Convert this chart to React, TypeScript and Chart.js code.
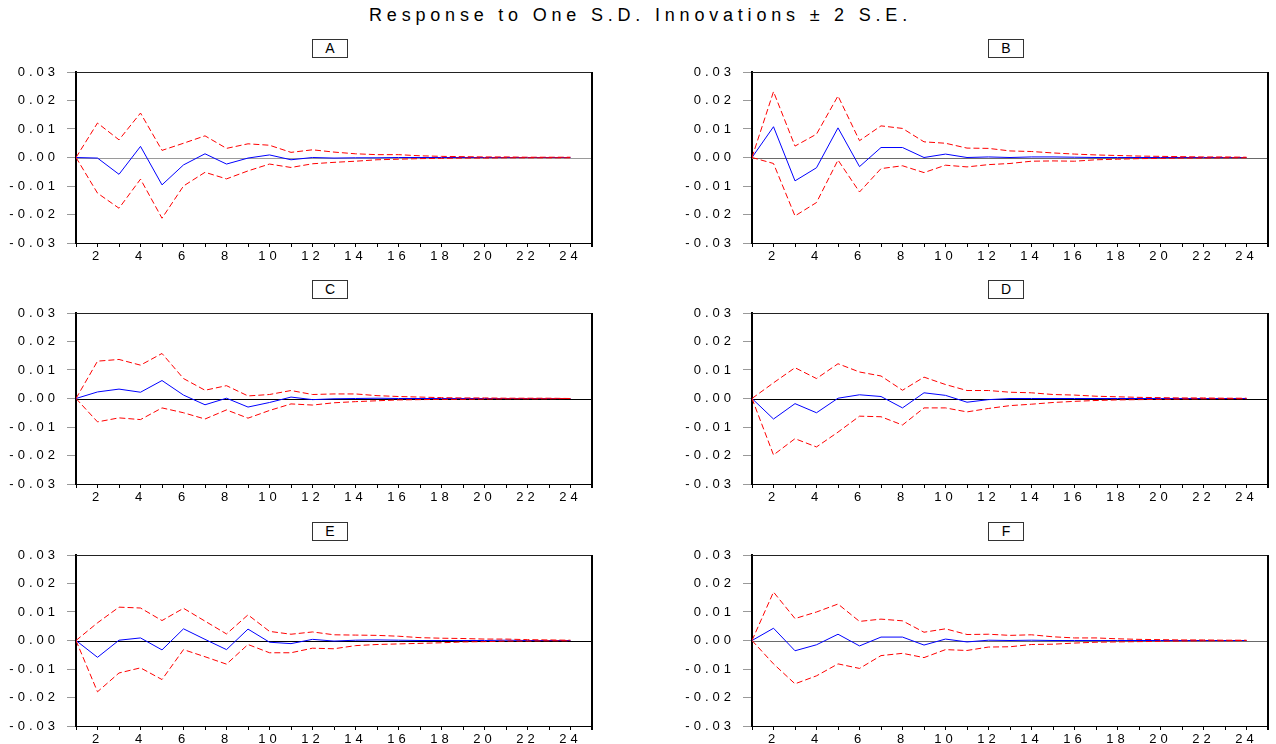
import React, { useEffect, useRef } from 'react';
import { Chart, registerables } from 'chart.js';

Chart.register(...registerables);

const TITLE = 'Response to One S.D. Innovations \u00b1 2 S.E.';

const PERIODS = [1, 2, 3, 4, 5, 6, 7, 8, 9, 10, 11, 12, 13, 14, 15, 16, 17, 18, 19, 20, 21, 22, 23, 24];
const X_TICK_VALUES = [1, 2, 3, 4, 5, 6, 7, 8, 9, 10, 11, 12, 13, 14, 15, 16, 17, 18, 19, 20, 21, 22, 23, 24, 25];
const X_TICK_LABELS = ['', '2', '', '4', '', '6', '', '8', '', '10', '', '12', '', '14', '', '16', '', '18', '', '20', '', '22', '', '24', ''];
const Y_TICK_VALUES = [-0.03, -0.02, -0.01, 0, 0.01, 0.02, 0.03];
const Y_TICK_LABELS = ['-0.03', '-0.02', '-0.01', '0.00', '0.01', '0.02', '0.03'];

const A_RESP = [0, -0.0002, -0.0059, 0.0039, -0.0096, -0.0026, 0.0013, -0.0023, -0.0002, 0.0009, -0.0008, 0.0, -0.0002, -0.0001, -0.0001, 0.0, 0.0, 0.0, 0.0, 0.0, 0.0, 0.0, 0.0, 0.0];
const A_UP = [0, 0.0121, 0.0062, 0.0156, 0.0025, 0.005, 0.0076, 0.0032, 0.0048, 0.0043, 0.0018, 0.0027, 0.0019, 0.0013, 0.001, 0.001, 0.0006, 0.0004, 0.0003, 0.0002, 0.0002, 0.0001, 0.0001, 0.0001];
const A_LO = [0, -0.0125, -0.0178, -0.0076, -0.0213, -0.01, -0.0052, -0.0075, -0.0047, -0.0023, -0.0035, -0.0022, -0.0017, -0.0013, -0.0008, -0.0006, -0.0004, -0.0003, -0.0002, -0.0002, -0.0001, -0.0001, -0.0001, -0.0001];

const B_RESP = [0, 0.0108, -0.0082, -0.0036, 0.0104, -0.0032, 0.0035, 0.0035, 0.0, 0.0012, 0.0, 0.0002, 0.0, 0.0002, 0.0002, 0.0001, 0.0, 0.0, 0.0, 0.0, 0.0, 0.0, 0.0, 0.0];
const B_UP = [0, 0.0231, 0.004, 0.0082, 0.0216, 0.0059, 0.0111, 0.0102, 0.0055, 0.005, 0.0033, 0.0032, 0.0023, 0.0021, 0.0016, 0.0012, 0.0009, 0.0007, 0.0005, 0.0004, 0.0003, 0.0002, 0.0002, 0.0001];
const B_LO = [0, -0.0021, -0.0205, -0.0158, -0.0009, -0.0121, -0.0039, -0.0029, -0.0053, -0.0027, -0.0033, -0.0025, -0.0021, -0.0013, -0.0012, -0.0013, -0.0008, -0.0006, -0.0004, -0.0003, -0.0002, -0.0002, -0.0001, -0.0001];

const C_RESP = [0, 0.0023, 0.0033, 0.0022, 0.0063, 0.0012, -0.0022, 0.0001, -0.003, -0.0014, 0.0005, -0.0004, -0.0001, 0.0, 0.0001, 0.0, 0.0, 0.0, 0.0, 0.0, 0.0, 0.0, 0.0, 0.0];
const C_UP = [0, 0.0131, 0.0137, 0.0117, 0.0158, 0.007, 0.0029, 0.0045, 0.0009, 0.0014, 0.0028, 0.0014, 0.0016, 0.0016, 0.001, 0.0007, 0.0005, 0.0003, 0.0002, 0.0002, 0.0001, 0.0001, 0.0001, 0.0];
const C_LO = [0, -0.0082, -0.0068, -0.0074, -0.0033, -0.005, -0.0072, -0.004, -0.0069, -0.0042, -0.0019, -0.0023, -0.0015, -0.0011, -0.0008, -0.0005, -0.0004, -0.0003, -0.0003, -0.0002, -0.0001, -0.0001, -0.0001, 0.0];

const D_RESP = [0, -0.0072, -0.0018, -0.005, 0.0001, 0.0013, 0.0007, -0.0033, 0.002, 0.0011, -0.0013, -0.0004, 0.0, 0.0, 0.0, 0.0, 0.0, 0.0, 0.0, 0.0, 0.0, 0.0, 0.0, 0.0];
const D_UP = [0, 0.0055, 0.0108, 0.007, 0.0122, 0.0093, 0.0079, 0.0029, 0.0075, 0.0049, 0.0028, 0.0028, 0.0022, 0.002, 0.0014, 0.0012, 0.0008, 0.0006, 0.0004, 0.0003, 0.0002, 0.0002, 0.0001, 0.0001];
const D_LO = [0, -0.0198, -0.0141, -0.017, -0.0118, -0.0062, -0.0064, -0.0093, -0.0033, -0.0033, -0.0047, -0.0035, -0.0025, -0.002, -0.0014, -0.001, -0.0007, -0.0005, -0.0004, -0.0003, -0.0002, -0.0001, -0.0001, -0.0001];

const E_RESP = [0, -0.0059, 0.0001, 0.0009, -0.0033, 0.0041, 0.0004, -0.0032, 0.004, -0.0006, -0.0011, 0.0004, -0.0002, 0.0001, 0.0002, 0.0001, 0.0, 0.0, 0.0, 0.0, 0.0001, 0.0, 0.0, 0.0];
const E_UP = [0, 0.0062, 0.0117, 0.0114, 0.007, 0.0113, 0.0068, 0.0023, 0.009, 0.0032, 0.0022, 0.003, 0.002, 0.0019, 0.0018, 0.0015, 0.001, 0.0008, 0.0007, 0.0005, 0.0005, 0.0003, 0.0002, 0.0001];
const E_LO = [0, -0.018, -0.0114, -0.0096, -0.0137, -0.0032, -0.0057, -0.0083, -0.0014, -0.0043, -0.0043, -0.0027, -0.0029, -0.0018, -0.0014, -0.0012, -0.001, -0.0008, -0.0005, -0.0004, -0.0002, -0.0002, -0.0001, -0.0001];

const F_RESP = [0, 0.0043, -0.0036, -0.0015, 0.0022, -0.0019, 0.0012, 0.0012, -0.0016, 0.0005, -0.0005, 0.0001, 0.0, 0.0001, 0.0, 0.0, 0.0, 0.0, 0.0, 0.0, 0.0, 0.0, 0.0, 0.0];
const F_UP = [0, 0.017, 0.0077, 0.01, 0.0128, 0.0067, 0.0075, 0.0069, 0.0029, 0.0041, 0.0021, 0.0022, 0.0018, 0.002, 0.0013, 0.0009, 0.0009, 0.0006, 0.0004, 0.0003, 0.0002, 0.0002, 0.0001, 0.0001];
const F_LO = [0, -0.0082, -0.0152, -0.0124, -0.0082, -0.0098, -0.0053, -0.0045, -0.006, -0.0032, -0.0035, -0.0023, -0.0022, -0.0014, -0.0013, -0.0009, -0.0006, -0.0005, -0.0004, -0.0003, -0.0002, -0.0001, -0.0001, 0.0];

const PANEL_NAMES = ['A', 'B', 'C', 'D', 'E', 'F'];
const PANEL_SERIES = [
  [A_RESP, A_UP, A_LO],
  [B_RESP, B_UP, B_LO],
  [C_RESP, C_UP, C_LO],
  [D_RESP, D_UP, D_LO],
  [E_RESP, E_UP, E_LO],
  [F_RESP, F_UP, F_LO],
];
const ZERO_COLORS = ['#9a9a9a', '#6a6a6a', '#000000', '#000000', '#000000', '#6a6a6a'];

const COL_LEFT = [76, 752];
const ROW_TOP = [72, 313, 555];
const PLOT_W = 516;
const PLOT_H = 171;
const Y_AXIS_W = 76;
const PAD_TOP = 8;
const PAD_RIGHT = 6;
const X_AXIS_H = 24;
const FONT = "'Liberation Sans', Arial, sans-serif";

const framePlugin = {
  id: 'frame',
  beforeDraw(chart: any) {
    chart.ctx.letterSpacing = '4px';
  },
  beforeDatasetsDraw(chart: any) {
    const { ctx, chartArea, scales } = chart;
    const y0 = Math.round(scales.y.getPixelForValue(0)) + 0.5;
    ctx.save();
    ctx.strokeStyle = chart.options.plugins.frame.zeroColor;
    ctx.lineWidth = 1;
    ctx.beginPath();
    ctx.moveTo(chartArea.left, y0);
    ctx.lineTo(chartArea.right, y0);
    ctx.stroke();
    ctx.restore();
  },
  afterDraw(chart: any) {
    const { ctx, chartArea } = chart;
    ctx.save();
    ctx.strokeStyle = '#222';
    ctx.lineWidth = 1;
    ctx.beginPath();
    ctx.moveTo(chartArea.left, Math.round(chartArea.top) + 0.5);
    ctx.lineTo(chartArea.right, Math.round(chartArea.top) + 0.5);
    ctx.stroke();
    ctx.strokeStyle = '#000';
    ctx.lineWidth = 2;
    ctx.beginPath();
    ctx.moveTo(Math.round(chartArea.right), chartArea.top);
    ctx.lineTo(Math.round(chartArea.right), chartArea.bottom + 4);
    ctx.stroke();
    ctx.restore();
  },
};

function Panel({ idx }: { idx: number }) {
  const ref = useRef<HTMLCanvasElement>(null);
  const col = idx % 2;
  const row = Math.floor(idx / 2);
  const plotLeft = COL_LEFT[col];
  const plotTop = ROW_TOP[row];
  const cw = Y_AXIS_W + PLOT_W + PAD_RIGHT;
  const ch = PAD_TOP + PLOT_H + X_AXIS_H;

  useEffect(() => {
    const [resp, up, lo] = PANEL_SERIES[idx];
    const pts = (arr: number[]) => PERIODS.map((p, i) => ({ x: p, y: arr[i] }));
    const chart = new Chart(ref.current as HTMLCanvasElement, {
      type: 'line',
      data: {
        datasets: [
          { data: pts(up), borderColor: '#ff0000', borderWidth: 1, borderDash: [6, 3], pointRadius: 0, fill: false, tension: 0 },
          { data: pts(lo), borderColor: '#ff0000', borderWidth: 1, borderDash: [6, 3], pointRadius: 0, fill: false, tension: 0 },
          { data: pts(resp), borderColor: '#0000ff', borderWidth: 1, pointRadius: 0, fill: false, tension: 0 },
        ],
      },
      options: {
        animation: false,
        responsive: false,
        events: [],
        layout: { padding: { top: PAD_TOP, right: PAD_RIGHT, left: 0, bottom: 0 } },
        plugins: {
          legend: { display: false },
          tooltip: { enabled: false },
          frame: { zeroColor: ZERO_COLORS[idx] },
        } as any,
        scales: {
          x: {
            type: 'linear',
            min: 1,
            max: 25,
            afterBuildTicks: (s: any) => {
              s.ticks = X_TICK_VALUES.map((v) => ({ value: v }));
            },
            afterFit: (s: any) => {
              s.height = X_AXIS_H;
              s.paddingLeft = 0;
              s.paddingRight = 0;
            },
            ticks: {
              autoSkip: false,
              maxRotation: 0,
              minRotation: 0,
              padding: 2,
              color: '#000',
              font: { family: FONT, size: 13 },
              callback: (_v: any, i: number) => X_TICK_LABELS[i],
            },
            grid: { display: true, drawOnChartArea: false, drawTicks: true, tickLength: 4, color: '#000', lineWidth: 1 },
            border: { display: true, color: '#000', width: 1 },
          },
          y: {
            type: 'linear',
            min: -0.03,
            max: 0.03,
            afterBuildTicks: (s: any) => {
              s.ticks = Y_TICK_VALUES.map((v) => ({ value: v }));
            },
            afterFit: (s: any) => {
              s.width = Y_AXIS_W;
              s.paddingTop = 0;
              s.paddingBottom = 0;
            },
            ticks: {
              padding: 8,
              color: '#000',
              font: { family: FONT, size: 13 },
              callback: (_v: any, i: number) => Y_TICK_LABELS[i],
            },
            grid: { display: true, drawOnChartArea: false, drawTicks: true, tickLength: 9, color: '#999', lineWidth: 1 },
            border: { display: true, color: '#000', width: 2 },
          },
        },
      },
      plugins: [framePlugin],
    } as any);
    return () => chart.destroy();
  }, [idx]);

  return (
    <>
      <canvas
        ref={ref}
        width={cw}
        height={ch}
        style={{ position: 'absolute', left: plotLeft - Y_AXIS_W, top: plotTop - PAD_TOP, width: cw, height: ch }}
      />
      <div
        style={{
          position: 'absolute',
          left: plotLeft + 236,
          top: plotTop - 33,
          width: 34,
          height: 17,
          border: '1px solid #333',
          fontFamily: FONT,
          fontSize: 14,
          lineHeight: '17px',
          textAlign: 'center',
          color: '#000',
          background: '#fff',
        }}
      >
        {PANEL_NAMES[idx]}
      </div>
    </>
  );
}

export default function App() {
  return (
    <div style={{ position: 'absolute', left: 0, top: 0, width: 1276, height: 744, background: '#fff', overflow: 'hidden' }}>
      <div
        style={{
          position: 'absolute',
          left: 0,
          top: 5,
          width: 1276,
          textAlign: 'center',
          fontFamily: FONT,
          fontSize: 18,
          lineHeight: '20px',
          letterSpacing: '4.8px',
          paddingLeft: 5,
          boxSizing: 'border-box',
          color: '#000',
        }}
      >
        {TITLE}
      </div>
      {PANEL_NAMES.map((_, i) => (
        <Panel key={i} idx={i} />
      ))}
    </div>
  );
}
